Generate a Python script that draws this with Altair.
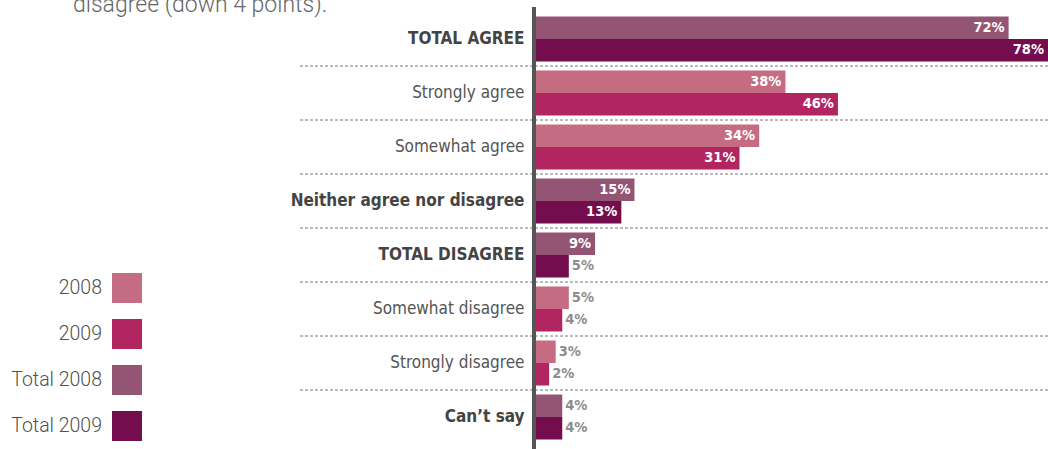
import altair as alt
import pandas as pd

rows = ["TOTAL AGREE", "Strongly agree", "Somewhat agree", "Neither agree nor disagree",
        "TOTAL DISAGREE", "Somewhat disagree", "Strongly disagree", "Can\u2019t say"]
bold_rows = ["TOTAL AGREE", "Neither agree nor disagree", "TOTAL DISAGREE", "Can\u2019t say"]
first_series = ["Total 2008", "2008", "2008", "Total 2008", "Total 2008", "2008", "2008", "Total 2008"]
second_series = ["Total 2009", "2009", "2009", "Total 2009", "Total 2009", "2009", "2009", "Total 2009"]
values_first = [72, 38, 34, 15, 9, 5, 3, 4]
values_second = [78, 46, 31, 13, 5, 4, 2, 4]

series_order = ["2008", "2009", "Total 2008", "Total 2009"]
series_colors = ["#C56B82", "#B12660", "#945474", "#740D4E"]

recs = []
for r, s1, s2, v1, v2 in zip(rows, first_series, second_series, values_first, values_second):
    recs.append({"row": r, "series": s1, "pos": "a", "value": v1, "label": f"{v1}%"})
    recs.append({"row": r, "series": s2, "pos": "b", "value": v2, "label": f"{v2}%"})
df = pd.DataFrame(recs)
sep = pd.DataFrame({"row": rows[1:]})

NARROW = "Liberation Sans Narrow, DejaVu Sans Condensed, Roboto Condensed, sans-serif"
LIGHT = "Helvetica Neue, Roboto, Lato, sans-serif"

bold_test = "indexof([" + ",".join("'" + b + "'" for b in bold_rows) + "], datum.value) >= 0"

y_enc = alt.Y("row:N", sort=rows, scale=alt.Scale(paddingInner=0, paddingOuter=0),
              axis=alt.Axis(title=None, domain=False, ticks=False, tickSize=0, labelPadding=12,
                            labelFont=NARROW, labelFontSize=17, labelLimit=400,
                            labelFontWeight={"condition": {"test": bold_test, "value": "bold"}, "value": "normal"},
                            labelColor={"condition": {"test": bold_test, "value": "#444444"}, "value": "#555555"}))
yoff = alt.YOffset("pos:N", sort=["a", "b"], scale=alt.Scale(paddingInner=0, paddingOuter=0.2))
x_enc = alt.X("value:Q", scale=alt.Scale(domain=[0, 78], nice=False), axis=None)

bars = alt.Chart(df).mark_bar(size=22.5).encode(
    x=x_enc, y=y_enc, yOffset=yoff,
    color=alt.Color("series:N", sort=series_order,
                    scale=alt.Scale(domain=series_order, range=series_colors),
                    legend=alt.Legend(title=None, orient="none", legendX=-424, legendY=261,
                                      symbolType="square", symbolSize=900, symbolStrokeWidth=0,
                                      symbolOpacity=1, rowPadding=16,
                                      labelAlign="right", labelOffset={"expr": "-40"}, labelFont=LIGHT,
                                      labelFontWeight=300, labelFontSize=19.5, labelColor="#505050",
                                      labelLimit=200)),
)

inside = alt.Chart(df).transform_filter("datum.value > 6").mark_text(
    align="right", baseline="middle", dx=-4, font=NARROW, fontWeight="bold", fontSize=14.5, color="white"
).encode(x=x_enc, y=alt.Y("row:N", sort=rows), yOffset=yoff, text="label:N")

outside = alt.Chart(df).transform_filter("datum.value <= 6").mark_text(
    align="left", baseline="middle", dx=3, font=NARROW, fontWeight="bold", fontSize=14.5, color="#8C8C8C"
).encode(x=x_enc, y=alt.Y("row:N", sort=rows), yOffset=yoff, text="label:N")

seps = alt.Chart(sep).mark_rule(color="#777777", strokeDash=[3, 2], strokeWidth=1).encode(
    y=alt.Y("row:N", sort=rows, bandPosition=0),
    x=alt.value(-236), x2=alt.value(512),
)

axis_line = alt.Chart(sep).mark_rule(color="#555555", strokeWidth=4).encode(
    x=alt.value(-2), y=alt.value(-5), y2=alt.value(440),
)

note = alt.Chart(pd.DataFrame({"t": ["disagree (down 4 points)."]})).mark_text(
    align="left", baseline="alphabetic", font=LIGHT, fontWeight=300, fontSize=23, color="#666666"
).encode(x=alt.value(-463), y=alt.value(0), text="t:N")

chart = alt.layer(seps, bars, inside, outside, axis_line, note).properties(
    width=512, height=432,
    padding={"left": 536, "top": 12, "right": 0, "bottom": 5},
    autosize=alt.AutoSizeParams(type="none"),
).configure_view(stroke=None)

chart.save("out.html", embed_options={"renderer": "svg", "actions": False})
